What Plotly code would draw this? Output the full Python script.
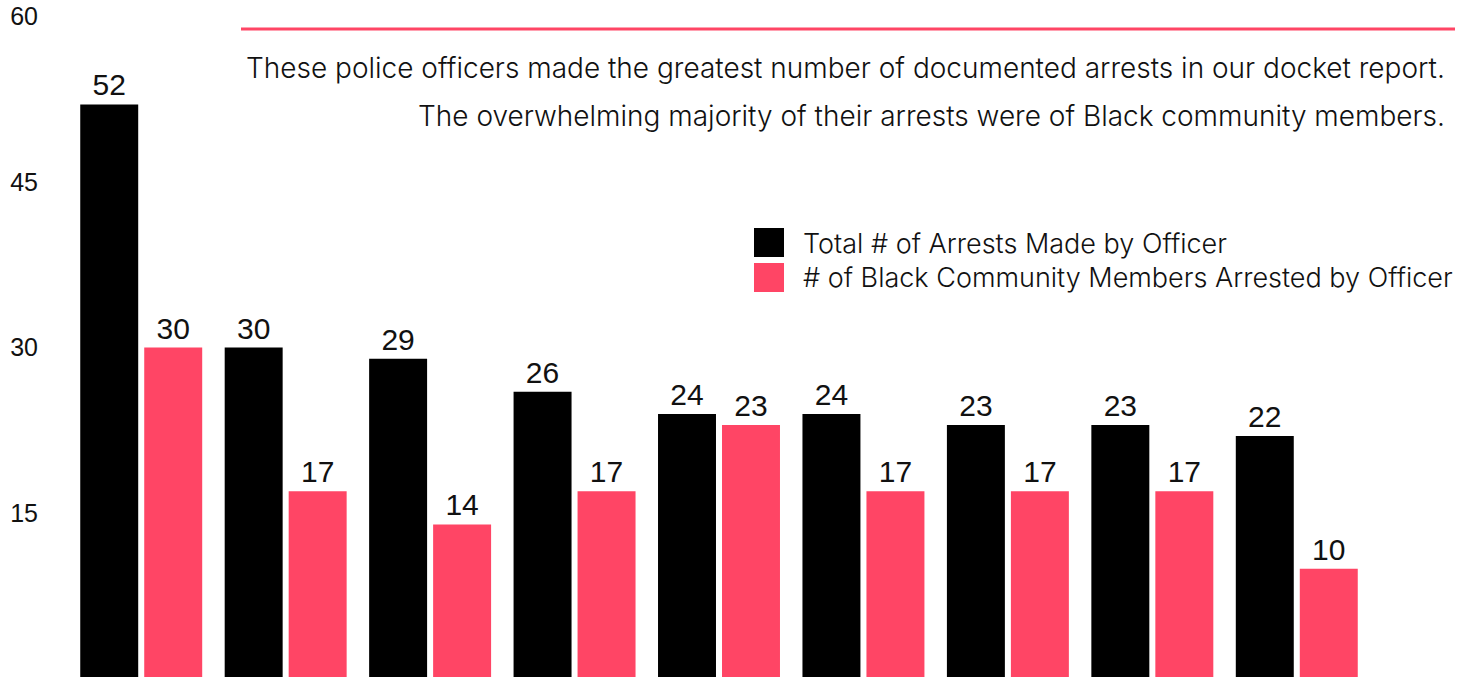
import plotly.graph_objects as go

officers = ["Officer 1", "Officer 2", "Officer 3", "Officer 4", "Officer 5",
            "Officer 6", "Officer 7", "Officer 8", "Officer 9"]
total_arrests = [52, 30, 29, 26, 24, 24, 23, 23, 22]
black_arrests = [30, 17, 14, 17, 23, 17, 17, 17, 10]
y_ticks = [15, 30, 45, 60]

series_names = ["Total # of Arrests Made by Officer",
                "# of Black Community Members Arrested by Officer"]
title_lines = ["These police officers made the greatest number of documented arrests in our docket report.",
               "The overwhelming majority of their arrests were of Black community members."]

BLACK = "#000000"
PINK = "#ff4565"
W, H = 1469, 677
L, R, T, B = 69, 100, 16, 0
PW, PH = W - L - R, H - T - B

def px(x):
    return (x - L) / PW

def py(y):
    return (H - B - y) / PH

label_font = dict(family="Liberation Sans, Arial, sans-serif", size=30, color="#111111")

fig = go.Figure()
fig.add_trace(go.Bar(x=officers, y=total_arrests, name=series_names[0],
                     marker=dict(color=BLACK, line=dict(width=0)),
                     text=total_arrests, textposition="outside",
                     textfont=label_font, cliponaxis=False))
fig.add_trace(go.Bar(x=officers, y=black_arrests, name=series_names[1],
                     marker=dict(color=PINK, line=dict(width=0)),
                     text=black_arrests, textposition="outside",
                     textfont=label_font, cliponaxis=False))

light = dict(family="Inter, Liberation Sans, sans-serif", weight=300, color="#111111")

annotations = [
    dict(text=title_lines[0], x=px(1447), y=py(68), xref="paper", yref="paper",
         xanchor="right", yanchor="middle", showarrow=False, font=dict(size=28, **light)),
    dict(text=title_lines[1], x=px(1447), y=py(116), xref="paper", yref="paper",
         xanchor="right", yanchor="middle", showarrow=False, font=dict(size=28, **light)),
    dict(text=series_names[0], x=px(801), y=py(243), xref="paper", yref="paper",
         xanchor="left", yanchor="middle", showarrow=False, font=dict(size=27, **light)),
    dict(text=series_names[1], x=px(801), y=py(277), xref="paper", yref="paper",
         xanchor="left", yanchor="middle", showarrow=False, font=dict(size=27, **light)),
]

shapes = [
    dict(type="line", xref="paper", yref="paper", x0=px(241), x1=px(1455),
         y0=py(29), y1=py(29), line=dict(color=PINK, width=3)),
    dict(type="rect", xref="paper", yref="paper", x0=px(754), x1=px(784),
         y0=py(257), y1=py(228), fillcolor=BLACK, line=dict(width=0)),
    dict(type="rect", xref="paper", yref="paper", x0=px(754), x1=px(784),
         y0=py(292), y1=py(263), fillcolor=PINK, line=dict(width=0)),
]

fig.update_layout(
    width=W, height=H,
    margin=dict(l=L, r=R, t=T, b=B, pad=0),
    paper_bgcolor="white", plot_bgcolor="white",
    barmode="group", bargap=0.114, bargroupgap=0.094,
    showlegend=False,
    annotations=annotations, shapes=shapes,
    xaxis=dict(showticklabels=False, showgrid=False, zeroline=False, showline=False,
               ticks="", range=[-0.5, 8.5]),
    yaxis=dict(range=[0.2, 60], tickvals=y_ticks, showgrid=False, zeroline=False,
               showline=False, ticks="", ticklabelstandoff=30,
               tickfont=dict(family="Liberation Sans, Arial, sans-serif", size=25, color="#111111")),
)

fig.write_html("out.html")
